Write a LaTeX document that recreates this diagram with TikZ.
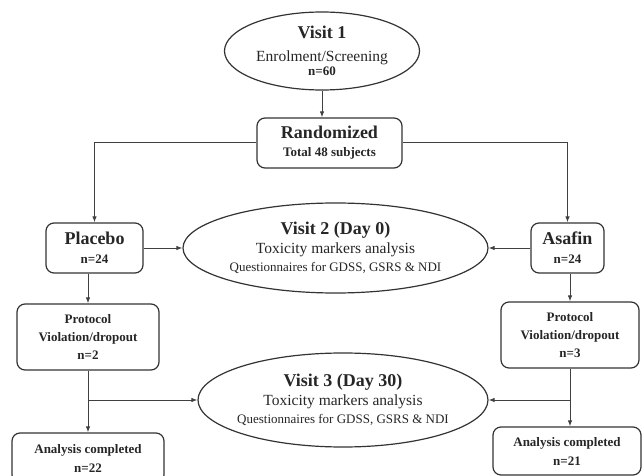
\documentclass[tikz,border=0pt]{standalone}
\usepackage{fontspec}
\setmainfont{Liberation Serif}
\usetikzlibrary{shapes.geometric,arrows.meta}
\def\hdfont{\fontsize{18}{18}\selectfont\bfseries}
\def\mdfont{\fontsize{15.5}{18}\selectfont}
\def\qfont{\fontsize{13}{18}\selectfont}
\def\smfont{\fontsize{13}{18}\selectfont\bfseries}
\tikzset{
	boxtext/.style={align=center, text=black!85, font={\fontsize{13}{18}\selectfont\lineskiplimit=-100pt}},
	visit/.style={ellipse, draw=black!80, line width=1.2pt, inner sep=-12pt, boxtext},
	grpbox/.style={rectangle, rounded corners=8pt, draw=black!80, line width=1.2pt, inner sep=0pt, boxtext},
	flow/.style={draw=black!75, line width=1pt, -{Latex[length=6pt,width=4.5pt]}}
}

\begin{document}
\begin{tikzpicture}[x=1pt,y=-1pt]
		%%%%% START %%%%%
		\useasboundingbox (0,0) rectangle (643,476);
		
		\node[visit, minimum width=195pt, minimum height=78pt] (visit1) at (322,51)
			{{\hdfont Visit 1}\\[5pt]{\mdfont Enrolment/Screening}\\[-4pt]{\smfont n=60}};
		\node[grpbox, minimum width=145pt, minimum height=50pt] (random) at (329.5,143)
			{{\hdfont Randomized}\\{\smfont Total 48 subjects}};
		
		\node[grpbox, minimum width=97pt, minimum height=50pt] (placebo) at (94.5,248)
			{{\hdfont Placebo}\\[1pt]{\smfont n=24}};
		\node[grpbox, minimum width=73pt, minimum height=50pt] (asafin) at (567.5,248)
			{{\hdfont Asafin}\\[1pt]{\smfont n=24}};
		\node[visit, minimum width=305pt, minimum height=90pt] (visit2) at (335.5,248)
			{{\hdfont Visit 2 (Day 0)}\\[1pt]{\mdfont Toxicity markers analysis}\\{\qfont Questionnaires for GDSS, GSRS \& NDI}};
		
		\node[grpbox, minimum width=142pt, minimum height=66pt] (drop1) at (88,337)
			{{\smfont Protocol}\\{\smfont Violation/dropout}\\{\smfont n=2}};
		\node[grpbox, minimum width=138pt, minimum height=66pt] (drop2) at (570,335)
			{{\smfont Protocol}\\{\smfont Violation/dropout}\\{\smfont n=3}};
		\node[visit, minimum width=290pt, minimum height=94pt] (visit3) at (343,400)
			{{\hdfont Visit 3 (Day 30)}\\[1pt]{\mdfont Toxicity markers analysis}\\{\qfont Questionnaires for GDSS, GSRS \& NDI}};
		
		\node[grpbox, minimum width=152pt, minimum height=50pt] (done1) at (88,458)
			{{\smfont Analysis completed}\\[1pt]{\smfont n=22}};
		\node[grpbox, minimum width=148pt, minimum height=48pt] (done2) at (567,451)
			{{\smfont Analysis completed}\\[1pt]{\smfont n=21}};
		
		\draw[flow] (visit1.south) -- (visit1.south |- random.north);
		\draw[flow] (random.west) -| (placebo.north);
		\draw[flow] (random.east) -| (asafin.north);
		\draw[flow] (placebo.east) -- (visit2.west);
		\draw[flow] (asafin.west) -- (visit2.east);
		\draw[flow] (drop1.north |- placebo.south) -- (drop1.north);
		\draw[flow] (drop2.north |- asafin.south) -- (drop2.north);
		\draw[flow] (drop1.south) -- (drop1.south |- done1.north);
		\draw[flow] (drop1.south |- visit3.west) -- (visit3.west);
		\draw[flow] (drop2.south) -- (drop2.south |- done2.north);
		\draw[flow] (drop2.south |- visit3.east) -- (visit3.east);
		
		%%%%% END %%%%%
\end{tikzpicture}
\end{document}
